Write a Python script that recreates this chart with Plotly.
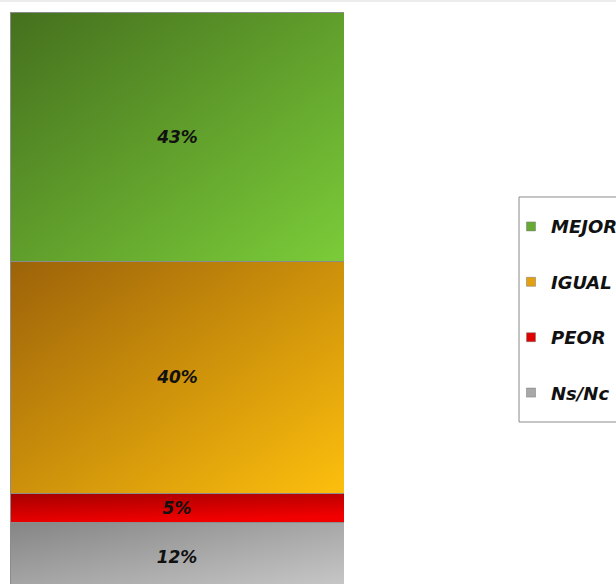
import base64
import plotly.graph_objects as go

categories = ["Total"]
series_names = ["Ns/Nc", "PEOR", "IGUAL", "MEJOR"]
series_values = [12, 5, 40, 43]
labels = ["12%", "5%", "40%", "43%"]
legend_colors = ["#a8a8a8", "#e00000", "#e4a010", "#66aa34"]
grad_start = ["#858585", "#a50000", "#9c6209", "#45701e"]
grad_end = ["#cacaca", "#f20000", "#fdbf0d", "#7bcc39"]
grad_dir = [(1, 1), (0.35, 1), (1, 1), (1, 1)]


def grad_uri(c0, c1, d):
    svg = (
        '<svg xmlns="http://www.w3.org/2000/svg" width="100" height="100" '
        'viewBox="0 0 100 100" preserveAspectRatio="none">'
        '<defs><linearGradient id="g" x1="0" y1="0" x2="%s" y2="%s">'
        '<stop offset="0" stop-color="%s"/><stop offset="1" stop-color="%s"/>'
        '</linearGradient></defs><rect width="100" height="100" fill="url(#g)"/></svg>'
    ) % (d[0], d[1], c0, c1)
    return "data:image/svg+xml;base64," + base64.b64encode(svg.encode()).decode()


label_font = dict(family="DejaVu Sans", size=17, color="#111111", weight="bold", style="italic")
legend_font = dict(family="DejaVu Sans", size=18, color="#111111", weight="bold", style="italic")

fig = go.Figure()
images = []
base = 0
for name, val, lab, c0, c1, d in zip(series_names, series_values, labels, grad_start, grad_end, grad_dir):
    fig.add_trace(go.Bar(
        x=categories, y=[val], name=name, showlegend=False,
        marker=dict(color="rgba(0,0,0,0)", line=dict(color="#8c8c8c", width=1)),
        text=[lab], textposition="inside", insidetextanchor="middle",
        textfont=label_font, width=1, hoverinfo="skip",
    ))
    images.append(dict(
        source=grad_uri(c0, c1, d), xref="x", yref="y",
        x=-0.5, y=base + val, sizex=1, sizey=val,
        xanchor="left", yanchor="top", sizing="stretch", layer="below",
    ))
    base += val

# legend entries (top to bottom)
for rank, (name, col) in enumerate(zip(series_names[::-1], legend_colors[::-1])):
    fig.add_trace(go.Scatter(
        x=[None], y=[None], mode="markers", name=name, legendgroup=name,
        legendrank=rank + 1,
        marker=dict(symbol="square", size=9, color=col, line=dict(color="#777777", width=0.5)),
    ))

fig.update_layout(
    barmode="stack",
    width=616, height=584,
    margin=dict(l=10, r=272, t=12, b=0, autoexpand=False),
    paper_bgcolor="white", plot_bgcolor="rgba(0,0,0,0)",
    xaxis=dict(visible=False, range=[-0.5, 0.5]),
    yaxis=dict(visible=False, range=[1.4, 100]),
    images=images,
    showlegend=True,
    legend=dict(
        x=1.5, y=0.657, xanchor="left", yanchor="top",
        traceorder="grouped", tracegroupgap=29,
        borderwidth=0, bgcolor="rgba(0,0,0,0)",
        font=legend_font, itemwidth=30,
    ),
    shapes=[
        dict(type="rect", xref="paper", yref="paper", x0=1.524, x1=2.0,
             y0=0.2832, y1=0.6766, line=dict(color="#8a8a8a", width=1),
             fillcolor="rgba(0,0,0,0)", layer="below"),
        dict(type="rect", xref="paper", yref="paper", x0=-0.1, x1=2.0,
             y0=1.0175, y1=1.03, line=dict(width=0), fillcolor="#ececec"),
    ],
    uniformtext=dict(mode="show", minsize=17),
)
fig.write_html("out.html")
